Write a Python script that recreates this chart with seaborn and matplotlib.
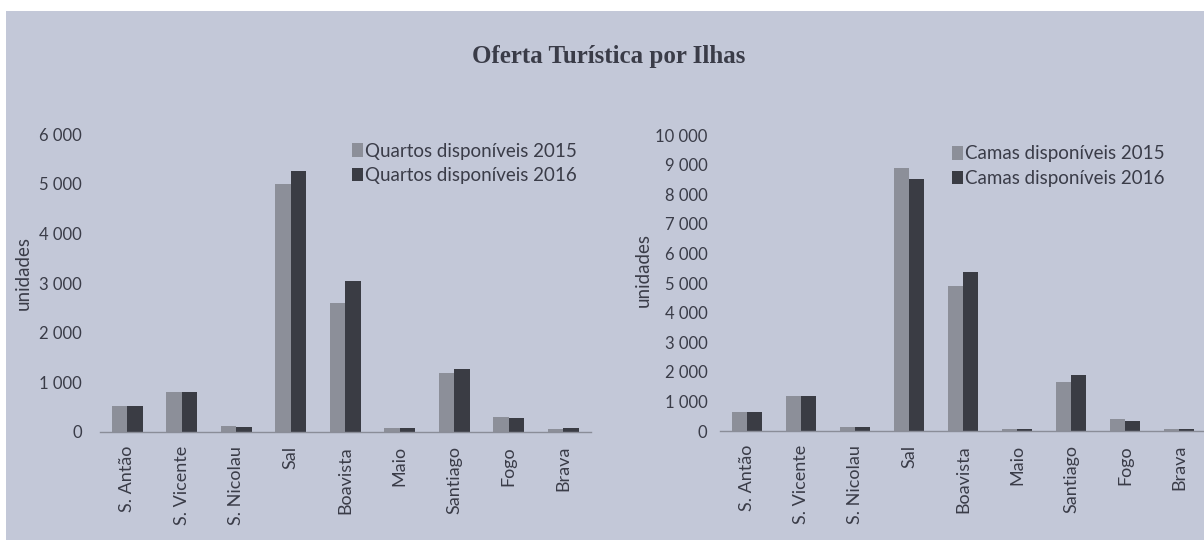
"""
Oferta turistica por ilhas - quartos e camas disponiveis.
"""
import pandas as pd
import seaborn as sns
import matplotlib
matplotlib.use('Agg')
from matplotlib import pyplot as plt
from matplotlib.patches import Rectangle
from matplotlib.ticker import FuncFormatter

ilhas = ['S. Antão', 'S. Vicente', 'S. Nicolau', 'Sal', 'Boavista', 'Maio', 'Santiago', 'Fogo', 'Brava']
quartos_2015 = [520, 810, 125, 5000, 2600, 80, 1190, 300, 70]
quartos_2016 = [520, 815, 100, 5250, 3050, 90, 1270, 280, 80]
camas_2015 = [650, 1190, 130, 8900, 4900, 60, 1670, 395, 60]
camas_2016 = [650, 1190, 140, 8500, 5360, 70, 1890, 345, 70]

bg = '#c3c8d8'
txt = '#3a3c48'
c2015 = '#8c8f99'
c2016 = '#3a3c44'

sns.set_style("white")
plt.rcParams['font.family'] = ['Lato', 'DejaVu Sans']

W, H = 1204, 540
fig = plt.figure(figsize=(W / 100, H / 100), dpi=100, facecolor='white')
fig.patches.append(Rectangle((6 / W, 0), 1, 1 - 11 / H, transform=fig.transFigure,
                             facecolor=bg, edgecolor='none', zorder=-10))

fig.text(609 / W, 1 - 57 / H, 'Oferta Turística por Ilhas', ha='center', va='center',
         family='Liberation Serif', fontweight='bold', fontsize=18, color=txt)


def make_df(v15, v16, nome):
    return pd.DataFrame({
        'ilha': ilhas * 2,
        'valor': v15 + v16,
        'serie': [nome + ' 2015'] * len(ilhas) + [nome + ' 2016'] * len(ilhas),
    })


def draw(rect, df, ymax, step, ypad, ylab_xy, leg_xy):
    ax = fig.add_axes(rect)
    ax.set_facecolor('none')
    sns.barplot(data=df, x='ilha', y='valor', hue='serie', palette=[c2015, c2016],
                width=0.57, gap=0, linewidth=0, saturation=1, ax=ax)
    ax.set_ylim(0, ymax)
    ax.set_xlim(-0.5, len(ilhas) - 0.5)
    ax.set_yticks(range(0, ymax + 1, step))
    ax.yaxis.set_major_formatter(FuncFormatter(lambda v, _: f'{int(v):,}'.replace(',', ' ')))
    for s in ['left', 'top', 'right']:
        ax.spines[s].set_visible(False)
    ax.spines['bottom'].set_color('#8a8d98')
    ax.spines['bottom'].set_linewidth(1)
    ax.tick_params(axis='y', length=0, pad=ypad, labelsize=12, labelcolor=txt)
    ax.tick_params(axis='x', which='major', length=0, pad=10, labelsize=13,
                   labelcolor=txt, labelrotation=90)
    ax.set_xticks([i + 0.5 for i in range(-1, len(ilhas))], minor=True)
    ax.tick_params(axis='x', which='minor', length=4, color='#8a8d98', direction='out')
    ax.set_xlabel('')
    ax.set_ylabel('unidades', fontsize=13.5, color=txt)
    ax.yaxis.set_label_coords(*ylab_xy)
    handles, labels = ax.get_legend_handles_labels()
    ax.legend(handles, labels, frameon=False, loc='upper left',
              bbox_to_anchor=leg_xy, bbox_transform=fig.transFigure,
              handlelength=0.62, handleheight=0.75, handletextpad=0.1,
              labelspacing=0.4, fontsize=13.5, labelcolor=txt, borderaxespad=0)
    return ax


draw([100 / W, 108 / H, 490.5 / W, 298 / H], make_df(quartos_2015, quartos_2016, 'Quartos disponíveis'),
     6000, 1000, 13, (-0.139, 0.535), (344 / W, 1 - 135 / H))
draw([720 / W, 109 / H, 486 / W, 296 / H], make_df(camas_2015, camas_2016, 'Camas disponíveis'),
     10000, 1000, 9, (-0.140, 0.544), (944 / W, 1 - 138 / H))

fig.savefig('out.png', dpi=100, facecolor='white')
